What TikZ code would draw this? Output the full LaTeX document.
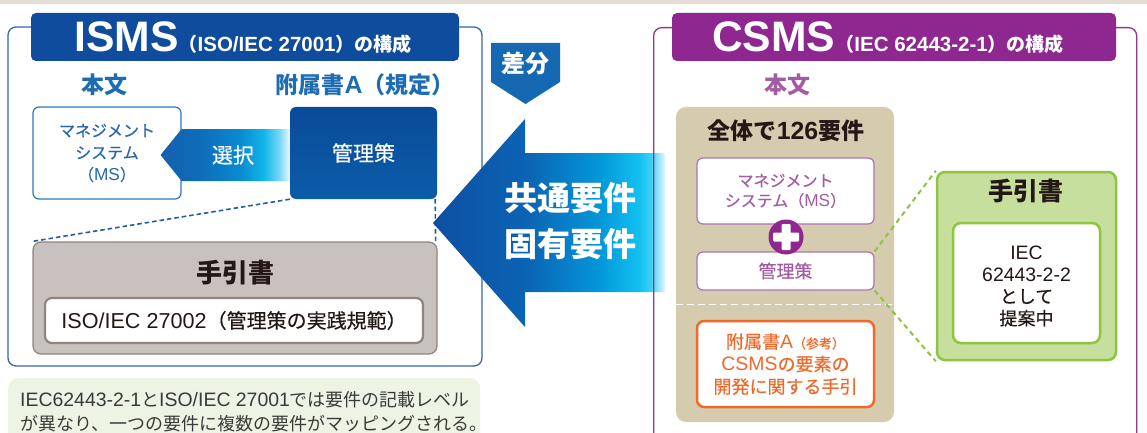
\documentclass[tikz,border=0pt]{standalone}
\usepackage{fontspec}
\setmainfont{Noto Sans CJK JP}
\newfontfamily\medfont[FakeBold=0.35]{Noto Sans CJK JP}
\newfontfamily\latfont[Scale=1.08]{Liberation Sans}
\usetikzlibrary{calc}
\newcommand\latx[1]{{\latfont #1}}
\newcommand\fs[2]{\fontsize{#1}{#2}\selectfont}
\definecolor{topband}{HTML}{E3DDD3}
\definecolor{isblue}{HTML}{0F4C9D}
\definecolor{isframecol}{HTML}{2F68B2}
\definecolor{istext}{HTML}{1D6CB4}
\definecolor{msline}{HTML}{2C78BF}
\definecolor{mstext}{HTML}{2767AE}
\definecolor{ctrltop}{HTML}{0A4B98}
\definecolor{ctrlbot}{HTML}{0B5CA9}
\definecolor{dashblue}{HTML}{1F5EA6}
\definecolor{greyfill}{HTML}{C9C1BD}
\definecolor{greyline}{HTML}{8E8480}
\definecolor{darktext}{HTML}{231815}
\definecolor{notefill}{HTML}{EEF4E4}
\definecolor{notetext}{HTML}{3A3A3A}
\definecolor{diffblue}{HTML}{1569B3}
\definecolor{ardark}{HTML}{0E4FA3}
\definecolor{armid}{HTML}{0B63B3}
\definecolor{arblue}{HTML}{0497D9}
\definecolor{arcyan}{HTML}{12C2F1}
\definecolor{arlight}{HTML}{40CFF4}
\definecolor{arwhite}{HTML}{E6F7FD}
\definecolor{selA}{HTML}{1560AE}
\definecolor{selB}{HTML}{0E6CB9}
\definecolor{selC}{HTML}{0A8BD0}
\definecolor{selD}{HTML}{12B5EA}
\definecolor{selE}{HTML}{7AD8F5}
\definecolor{selF}{HTML}{EAF8FD}
\definecolor{purp}{HTML}{8E278F}
\definecolor{purpframe}{HTML}{8F3793}
\definecolor{purptext}{HTML}{A35CA3}
\definecolor{purpline}{HTML}{AE72B0}
\definecolor{tanfill}{HTML}{D5CBAF}
\definecolor{orng}{HTML}{F0692A}
\definecolor{grnfill}{HTML}{C6DF9D}
\definecolor{grnline}{HTML}{8DC540}
\pgfdeclarehorizontalshading{bigshade}{100bp}{color(0bp)=(ardark); color(25bp)=(ardark); color(45bp)=(armid); color(61bp)=(arblue); color(69.5bp)=(arcyan); color(72bp)=(arlight); color(75bp)=(arwhite); color(100bp)=(arwhite)}
\pgfdeclarehorizontalshading{selshade}{100bp}{color(0bp)=(selA); color(25bp)=(selA); color(40bp)=(selB); color(56bp)=(selC); color(65bp)=(selD); color(71bp)=(selE); color(75bp)=(selF); color(100bp)=(selF)}
\begin{document}
\begin{tikzpicture}[x=1pt,y=-1pt,
  box/.style={rectangle, inner sep=0pt, align=center},
  frameI/.style={box, draw=isframecol, line width=1.3pt, rounded corners=8pt},
  frameC/.style={box, draw=purpframe, line width=1.3pt, rounded corners=8pt},
  titlebar/.style={box, rounded corners=5pt},
  head/.style={font=\bfseries\fs{23}{23}},
  msbox/.style={box, fill=white, draw=msline, line width=1.2pt, rounded corners=6pt, text=mstext, font=\medfont\fs{16}{22}},
  pbox/.style={box, fill=white, draw=purpline, line width=1.2pt, rounded corners=6pt, text=purptext},
  isdash/.style={draw=dashblue, line width=1.6pt, dash pattern=on 4.5pt off 3pt},
  gdash/.style={draw=grnline, line width=2pt, dash pattern=on 5pt off 4pt},
  whitetext/.style={text=white}
]
\clip (0,0) rectangle (1147,433);
\fill[white] (0,0) rectangle (1147,433);
\fill[topband] (0,0) rectangle (1147,4);

% ---------------- ISMS ----------------
\node[frameI, minimum width=474, minimum height=339] (isframe) at (245,196.5) {};
\node[titlebar, fill=isblue, minimum width=428, minimum height=48] (istitle) at (245,37) {};
\node[whitetext] (istitlet) at (243,38)
  {{\latfont\bfseries\fs{39.5}{39.5}ISMS}{\bfseries\fs{19}{19}（\latx{ISO/IEC 27001}）の構成}};
\node[head, text=istext] (isbody) at (104,85) {本文};
\node[head, text=istext] (isannex) at (365,85) {附属書\latx{A}（規定）};
\node[msbox, minimum width=148, minimum height=92] (isms) at (107,153)
  {マネジメント\\システム\\（\latx{MS}）};
\node[box, rounded corners=6pt, top color=ctrltop, bottom color=ctrlbot, minimum width=147, minimum height=92,
  text=white, font=\medfont\fs{21}{21}] (isctrl) at (363.5,153) {管理策};
\shade[shading=selshade] ($(isctrl.west)+(0,-24)$) -- ($(isms.east)+(0,-24)$) -- ($(isms.east)+(-21,2)$)
  -- ($(isms.east)+(0,28)$) -- ($(isctrl.west)+(0,28)$) -- cycle;
\node[whitetext, font=\medfont\fs{21}{21}] (select) at (233,155) {選択};
\node[box, fill=greyfill, draw=greyline, line width=1.2pt, rounded corners=8pt,
  minimum width=404, minimum height=112] (isguide) at (235,298) {};
\node[text=darktext, font=\bfseries\fs{26}{26}] (isguidet) at (235,273) {手引書};
\node[box, fill=white, draw=greyline, line width=2.2pt, rounded corners=7pt,
  minimum width=378, minimum height=45, text=darktext, font=\medfont\fs{20}{20}] (isref) at (234,320.5)
  {\latx{ISO/IEC 27002}（管理策の実践規範）};
\draw[isdash] (isctrl.south west) -- (isguide.north west);
\draw[isdash] ($(isctrl.south east)+(-2,0)$) -- ($(isguide.north east)+(-2,0)$);

% note
\node[box, fill=notefill, rounded corners=10pt, minimum width=472, minimum height=90, anchor=north west] (note) at (8,378) {};
\node[anchor=base west, text=notetext, font=\fs{18}{18}, inner sep=0pt] (note1) at (20,406)
  {\latx{IEC62443-2-1}と\latx{ISO/IEC 27001}では要件の記載レベル};
\node[anchor=base west, text=notetext, font=\fs{18}{18}, inner sep=0pt] (note2) at (20,430)
  {が異なり、一つの要件に複数の要件がマッピングされる。};

% ---------------- middle ----------------
\fill[diffblue] (491,43) -- (560,43) -- (560,82) -- (525.5,104) -- (491,82) -- cycle;
\node[whitetext, font=\bfseries\fs{24}{24}] (diff) at (525.5,63) {差分};
\shade[shading=bigshade] (665,153) -- (525,153) -- (525,119) -- (433,223) -- (525,327) -- (525,292) -- (665,292) -- cycle;
\node[whitetext, font=\bfseries\fs{33}{33}] (common) at (570,198) {共通要件};
\node[whitetext, font=\bfseries\fs{33}{33}] (specific) at (570,244) {固有要件};

% ---------------- CSMS ----------------
\node[frameC, minimum width=483, minimum height=460, anchor=north west] (csframe) at (653,27) {};
\node[titlebar, fill=purp, minimum width=444, minimum height=48] (cstitle) at (894,37) {};
\node[whitetext] (cstitlet) at (888,38)
  {{\latfont\bfseries\fs{39.5}{39.5}CSMS}{\bfseries\fs{19}{19}（\latx{IEC 62443-2-1}）の構成}};
\node[head, text=purptext] (csbody) at (787,85) {本文};
\node[box, fill=tanfill, rounded corners=10pt, minimum width=218, minimum height=315] (cstan) at (785,264.5) {};
\node[text=darktext, font=\bfseries\fs{23}{23}] (total) at (786,131) {全体で\latx{\bfseries 126}要件};
\node[pbox, minimum width=177, minimum height=66, font=\medfont\fs{16}{20}] (csms) at (785.5,191)
  {マネジメント\\システム（\latx{MS}）};
\node[pbox, minimum width=177, minimum height=38, font=\medfont\fs{18}{18}] (csctrl) at (785.5,271) {管理策};
\node[circle, fill=purp, minimum size=35, inner sep=0pt] (plus) at (786,237) {};
\fill[white, rounded corners=1pt] ($(plus)+(-13,-4.5)$) rectangle ($(plus)+(13,4.5)$);
\fill[white, rounded corners=1pt] ($(plus)+(-4.5,-13)$) rectangle ($(plus)+(4.5,13)$);
\draw[white, line width=1pt, dash pattern=on 7pt off 4pt] ($(cstan.west)+(0,39.5)$) -- ($(cstan.east)+(0,39.5)$);
\node[box, fill=white, draw=orng, line width=2.5pt, rounded corners=7pt, minimum width=177, minimum height=86,
  text=orng, font=\medfont\fs{18}{22.5}] (csannex) at (785.5,364)
  {附属書\latx{A}{\fs{13}{13}（参考）}\\\latx{CSMS}の要素の\\開発に関する手引};
\node[box, fill=grnfill, draw=grnline, line width=2.5pt, rounded corners=8pt, minimum width=179, minimum height=188] (csguide) at (1026.5,266) {};
\node[text=darktext, font=\bfseries\fs{25}{25}] (csguidet) at (1026,191) {手引書};
\node[box, fill=white, draw=grnline, line width=2.5pt, rounded corners=8pt, minimum width=147, minimum height=120,
  text=darktext, font=\fs{18}{22}] (csref) at (1026.5,283) {};
\node[text=darktext, font=\medfont\fs{18}{22}, align=center] (csreft) at (1026.5,286)
  {\latx{IEC}\\\latx{62443-2-2}\\として\\提案中};
\draw[gdash] (csctrl.north east) -- (csguide.north west);
\draw[gdash] (csctrl.south east) -- (csguide.south west);
\end{tikzpicture}
\end{document}
